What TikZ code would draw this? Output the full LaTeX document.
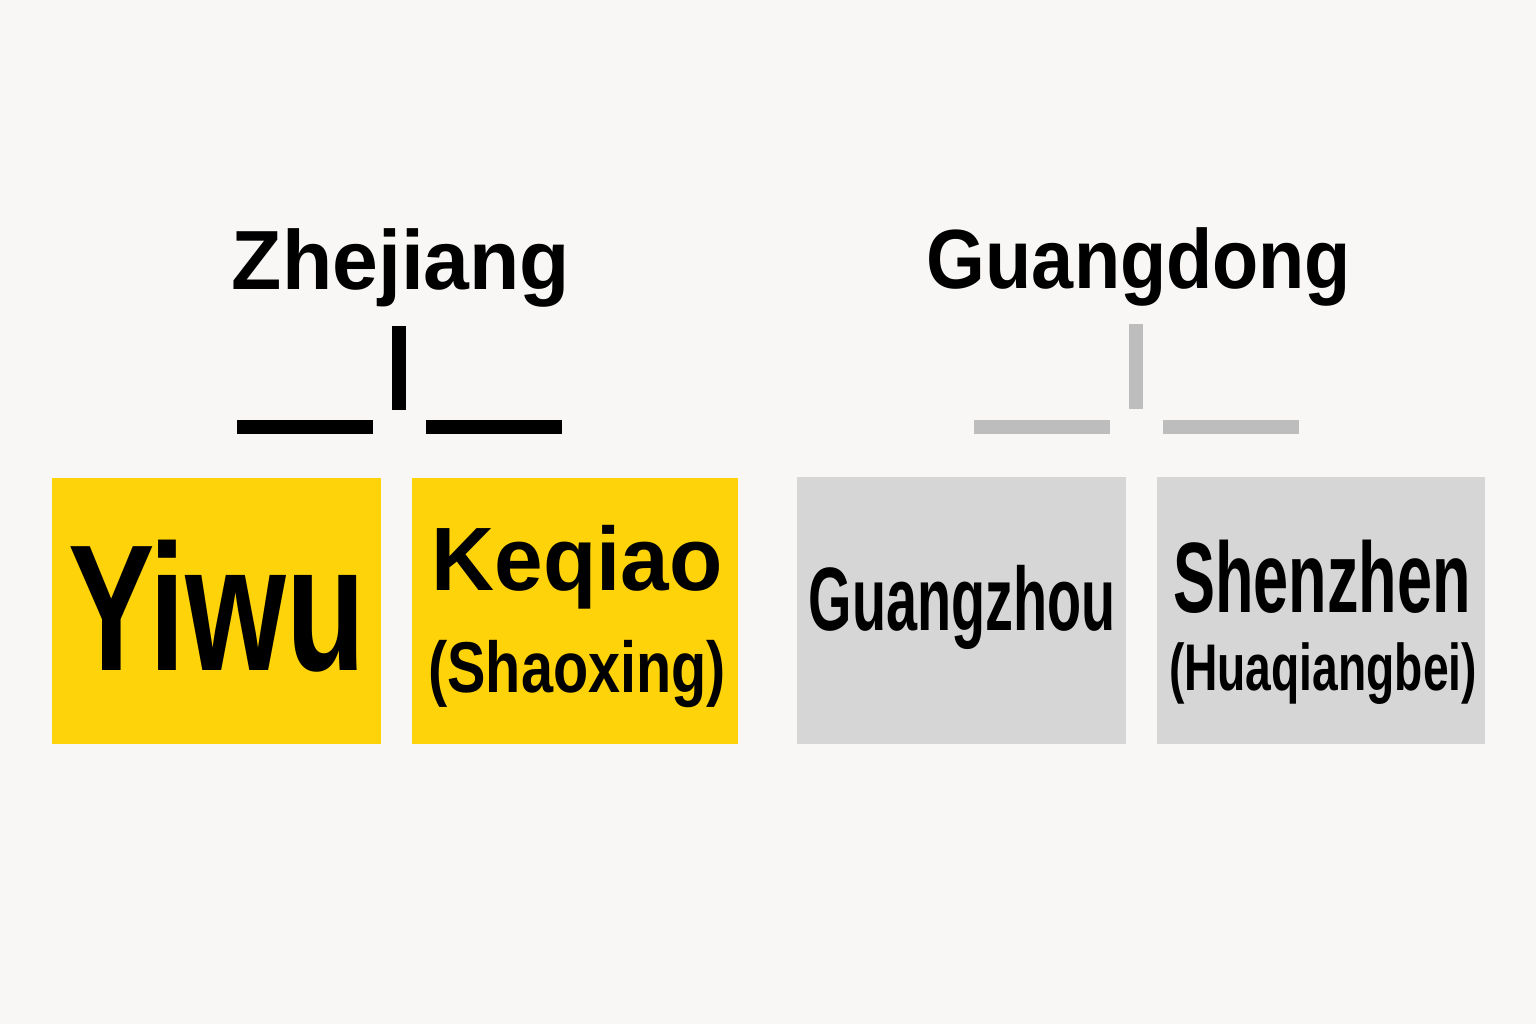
\documentclass[tikz,border=0pt]{standalone}
\usepackage{fontspec}
\setmainfont{Liberation Sans}
\definecolor{bg}{HTML}{F8F7F5}
\definecolor{yel}{HTML}{FFD30A}
\definecolor{ybar}{HTML}{F9CF12}
\definecolor{gbox}{HTML}{D6D6D6}
\definecolor{gbar}{HTML}{BDBDBD}
\begin{document}
\begin{tikzpicture}[x=1pt,y=-1pt,
  lbl/.style={anchor=base,inner sep=0pt,text=black,font=\bfseries},
  bar/.style={draw=none}]
\fill[bg] (0,0) rectangle (1536,1024);
\useasboundingbox (0,0) rectangle (1536,1024);
% connectors
\fill[ybar] (392,326) rectangle (406,410);
\fill[ybar] (237,420) rectangle (373,434);
\fill[ybar] (426,420) rectangle (562,434);
\fill[gbar] (1129,324) rectangle (1143,409);
\fill[gbar] (974,420) rectangle (1110,434);
\fill[gbar] (1163,420) rectangle (1299,434);
% boxes
\fill[yel] (52,478) rectangle (381,744);
\fill[yel] (412,478) rectangle (738,744);
\fill[gbox] (797,477) rectangle (1126,744);
\fill[gbox] (1157,477) rectangle (1485,744);
% texts
\node[lbl,font=\bfseries\fontsize{84}{84}\selectfont] (zj) at (401,290) {\scalebox{0.98}[1]{Zhejiang}};
\node[lbl,font=\bfseries\fontsize{84}{84}\selectfont] (gd) at (1139,288) {\scalebox{0.9}[1]{Guangdong}};
\node[lbl,font=\bfseries\fontsize{180}{180}\selectfont] (yw) at (217,670) {\scalebox{0.72}[1]{Yiwu}};
\node[lbl,font=\bfseries\fontsize{90}{90}\selectfont] (kq) at (577,590) {\scalebox{0.97}[1]{Keqiao}};
\node[lbl,font=\bfseries\fontsize{72}{72}\selectfont] (sx) at (577,692) {\scalebox{0.8}[1]{(Shaoxing)}};
\node[lbl,font=\bfseries\fontsize{90}{90}\selectfont] (gz) at (962,630) {\scalebox{0.62}[1]{Guangzhou}};
\node[lbl,font=\bfseries\fontsize{100}{100}\selectfont] (sz) at (1322,612) {\scalebox{0.63}[1]{Shenzhen}};
\node[lbl,font=\bfseries\fontsize{66}{66}\selectfont] (hq) at (1323,690) {\scalebox{0.7}[1]{(Huaqiangbei)}};
\end{tikzpicture}
\end{document}
